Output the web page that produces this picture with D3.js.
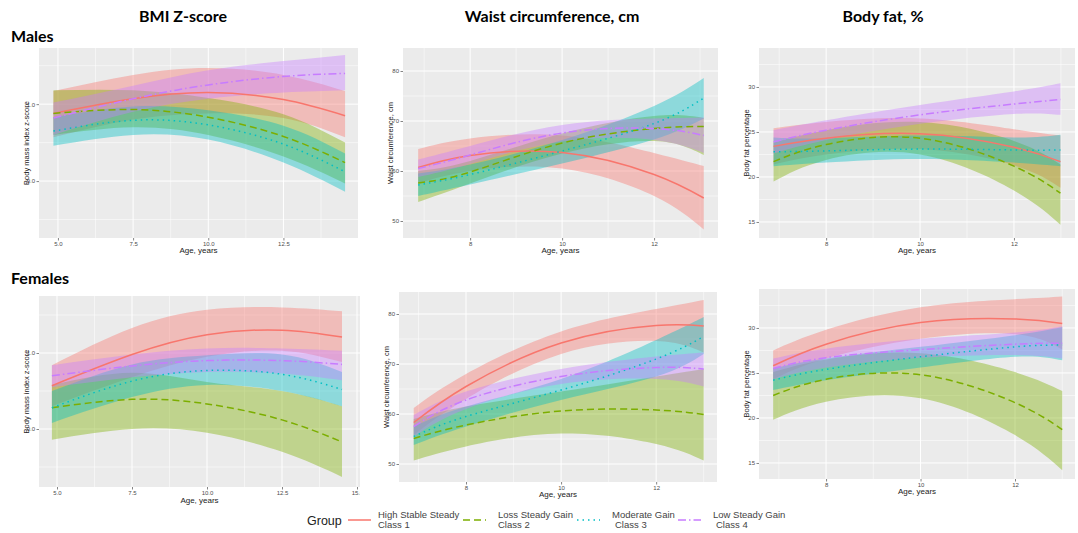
<!DOCTYPE html>
<html>
<head>
<meta charset="utf-8">
<script src="https://cdn.jsdelivr.net/npm/d3@7"></script>
<style>
  body { margin: 0; background: #fff; }
  svg { display: block; }
</style>
</head>
<body>
<div id="chart"></div>
<script>
// ---- data ----
const groupNames = ["High Stable Steady", "Loss Steady Gain", "Moderate Gain", "Low Steady Gain"];
const groupClasses = ["Class 1", "Class 2", "Class 3", "Class 4"];
const groupColors = ["#F8766D", "#7CAE00", "#00BFC4", "#C77CFF"];
const colTitles = ["BMI Z-score", "Waist circumference, cm", "Body fat, %"];
const rowTitles = ["Males", "Females"];
const yTitles = ["Body mass index z-score", "Waist circumference, cm", "Body fat percentage"];

const bmiTicksX = [5, 7.5, 10, 12.5, 15];
const yearTicksX = [8, 10, 12];
const bmiTicksY = [0, 1];
const waistTicksY = [50, 60, 70, 80];
const fatTicksY = [15, 20, 25, 30];

// males, BMI z-score (rows = class 1..4)
const maleBmiAge = [4.85, 7.5, 10, 12.5, 14.55];
const maleBmiMean = [[0.88, 1.07, 1.15, 1.06, 0.85], [0.88, 0.93, 0.83, 0.58, 0.24], [0.65, 0.79, 0.73, 0.48, 0.12], [0.82, 1.07, 1.25, 1.36, 1.40]];
const maleBmiLow  = [[0.57, 0.80, 0.88, 0.82, 0.57], [0.60, 0.70, 0.60, 0.32, -0.03], [0.46, 0.60, 0.54, 0.24, -0.14], [0.60, 0.90, 1.07, 1.15, 1.18]];
const maleBmiHigh = [[1.17, 1.38, 1.47, 1.38, 1.17], [1.18, 1.18, 1.08, 0.87, 0.50], [0.83, 0.97, 0.92, 0.72, 0.36], [1.02, 1.24, 1.44, 1.56, 1.64]];

// males, waist circumference
const maleWaistAge = [6.87, 8, 10, 12, 13.08];
const maleWaistMean = [[60.7, 63.1, 63.7, 59.3, 54.6], [57.6, 59.8, 65.6, 68.5, 68.9], [57.2, 59.3, 64.0, 69.5, 74.6], [60.5, 63.2, 67.6, 68.5, 67.1]];
const maleWaistLow  = [[57.5, 60.0, 60.5, 55.0, 48.3], [53.8, 57.5, 63.5, 66.0, 63.2], [55.0, 57.3, 61.5, 66.3, 70.5], [58.8, 61.4, 65.9, 66.2, 63.6]];
const maleWaistHigh = [[64.4, 66.5, 67.1, 63.6, 61.0], [60.0, 62.0, 67.5, 71.0, 70.6], [59.5, 61.3, 66.2, 73.0, 78.6], [62.3, 65.0, 69.2, 70.5, 70.7]];

// males, body fat
const maleFatAge = [6.88, 8, 10, 12, 12.99];
const maleFatMean = [[23.4, 24.3, 24.8, 23.3, 21.7], [21.7, 23.6, 24.3, 21.2, 18.2], [22.8, 22.9, 23.1, 23.0, 23.0], [23.9, 25.2, 26.9, 28.1, 28.6]];
const maleFatLow  = [[21.4, 22.5, 23.1, 21.3, 18.8], [19.5, 21.9, 22.5, 18.5, 14.7], [21.2, 21.6, 22.0, 21.6, 21.2], [22.6, 24.1, 25.9, 27.0, 26.9]];
const maleFatHigh = [[25.4, 26.1, 26.5, 25.3, 24.6], [23.8, 25.2, 26.1, 24.0, 21.4], [24.4, 24.3, 24.6, 24.4, 24.7], [25.2, 26.3, 28.0, 29.5, 30.4]];

// females, BMI z-score
const femaleBmiAge = [4.83, 7.5, 10, 12.5, 14.5];
const femaleBmiMean = [[0.57, 0.98, 1.24, 1.30, 1.21], [0.28, 0.39, 0.33, 0.12, -0.17], [0.28, 0.63, 0.77, 0.72, 0.52], [0.70, 0.83, 0.90, 0.90, 0.85]];
const femaleBmiLow  = [[0.30, 0.68, 0.95, 1.03, 0.88], [-0.14, 0.00, -0.05, -0.30, -0.63], [0.08, 0.42, 0.58, 0.50, 0.30], [0.55, 0.68, 0.75, 0.73, 0.64]];
const femaleBmiHigh = [[0.84, 1.33, 1.57, 1.60, 1.55], [0.58, 0.74, 0.62, 0.50, 0.30], [0.50, 0.85, 0.97, 0.98, 0.75], [0.84, 0.98, 1.06, 1.06, 1.03]];

// females, waist circumference
const femaleWaistAge = [6.9, 8, 10, 12, 13.0];
const femaleWaistMean = [[58.3, 65.5, 74.2, 77.7, 77.6], [55.1, 57.8, 60.6, 60.8, 59.9], [55.5, 59.5, 64.8, 71.0, 75.5], [57.5, 62.8, 67.5, 69.3, 69.0]];
const femaleWaistLow  = [[55.8, 63.0, 72.0, 74.6, 72.3], [50.7, 53.5, 56.1, 54.0, 50.7], [53.8, 57.5, 62.8, 67.5, 72.0], [55.5, 61.0, 66.0, 67.0, 65.5]];
const femaleWaistHigh = [[61.2, 68.0, 76.5, 81.0, 82.8], [59.0, 61.5, 64.5, 67.5, 69.0], [57.5, 61.5, 67.0, 74.8, 79.4], [59.8, 64.5, 69.0, 71.5, 72.3]];

// females, body fat
const femaleFatAge = [6.88, 8, 10, 12, 13.0];
const femaleFatMean = [[25.8, 28.2, 30.6, 31.0, 30.5], [22.5, 24.3, 24.8, 21.7, 18.7], [24.2, 25.4, 26.8, 27.9, 28.1], [25.5, 26.7, 27.6, 28.2, 28.3]];
const femaleFatLow  = [[24.3, 26.6, 28.8, 29.3, 27.6], [19.8, 21.8, 22.2, 18.1, 14.2], [23.1, 24.2, 25.6, 26.8, 26.4], [24.3, 25.6, 26.7, 27.0, 26.6]];
const femaleFatHigh = [[27.5, 29.8, 32.3, 33.2, 33.5], [25.1, 26.5, 27.2, 25.1, 23.0], [25.5, 26.6, 27.9, 29.2, 30.1], [26.6, 27.7, 28.8, 29.5, 30.2]];

// ---- layout ----
const width = 1078, height = 533;
const lineDash = [null, "7,4", "1.5,4", "8,3,1.5,3"];
const fmt1 = d3.format(".1f");

const svg = d3.select("#chart").append("svg")
  .attr("width", width)
  .attr("height", height)
  .style("font-family", "'Liberation Sans', Arial, sans-serif");

// clip each column so the stray "15.0" label gets cut like in the figure
const defs = svg.append("defs");
[[0, 360], [360, 720], [720, 1078]].forEach((c, i) => {
  defs.append("clipPath").attr("id", "col" + i)
    .append("rect").attr("x", c[0]).attr("y", 0).attr("width", c[1] - c[0]).attr("height", height);
});

const panels = [
  {col: 0, box: [39, 358, 48, 238], xd: [4.37, 14.98], yd: [-0.74, 1.73], xt: bmiTicksX, xf: fmt1, yt: bmiTicksY,
   age: maleBmiAge, mean: maleBmiMean, lo: maleBmiLow, hi: maleBmiHigh, xTitleY: 253},
  {col: 1, box: [403, 718, 48, 238], xd: [6.54, 13.39], yd: [46.6, 84.6], xt: yearTicksX, xf: d3.format("d"), yt: waistTicksY,
   age: maleWaistAge, mean: maleWaistMean, lo: maleWaistLow, hi: maleWaistHigh, xTitleY: 253},
  {col: 2, box: [759, 1075, 48, 238], xd: [6.57, 13.30], yd: [13.22, 34.33], xt: yearTicksX, xf: d3.format("d"), yt: fatTicksY,
   age: maleFatAge, mean: maleFatMean, lo: maleFatLow, hi: maleFatHigh, xTitleY: 253},
  {col: 0, box: [39, 360, 296, 487], xd: [4.4, 15.1], yd: [-0.763, 1.75], xt: bmiTicksX, xf: fmt1, yt: bmiTicksY,
   age: femaleBmiAge, mean: femaleBmiMean, lo: femaleBmiLow, hi: femaleBmiHigh, xTitleY: 503},
  {col: 1, box: [399, 717, 292, 482], xd: [6.59, 13.28], yd: [46.4, 84.4], xt: yearTicksX, xf: d3.format("d"), yt: waistTicksY,
   age: femaleWaistAge, mean: femaleWaistMean, lo: femaleWaistLow, hi: femaleWaistHigh, xTitleY: 497},
  {col: 2, box: [759, 1075, 289, 479], xd: [6.58, 13.27], yd: [13.22, 34.33], xt: yearTicksX, xf: d3.format("d"), yt: fatTicksY,
   age: femaleFatAge, mean: femaleFatMean, lo: femaleFatLow, hi: femaleFatHigh, xTitleY: 494}
];

function minors(ticks, domain) {
  const step = ticks[1] - ticks[0];
  const out = [];
  for (let v = ticks[0] - step / 2; v <= domain[1]; v += step) {
    if (v >= domain[0]) out.push(v);
  }
  return out;
}

panels.forEach(p => {
  const [x0, x1, y0, y1] = p.box;
  const g = svg.append("g").attr("clip-path", `url(#col${p.col})`);
  const x = d3.scaleLinear().domain(p.xd).range([x0, x1]);
  const y = d3.scaleLinear().domain(p.yd).range([y1, y0]);

  g.append("rect")
    .attr("x", x0).attr("y", y0)
    .attr("width", x1 - x0).attr("height", y1 - y0)
    .attr("fill", "#EBEBEB");

  // grid
  const xMaj = p.xt.filter(v => v >= p.xd[0] && v <= p.xd[1]);
  const yMaj = p.yt.filter(v => v >= p.yd[0] && v <= p.yd[1]);
  g.selectAll(".gxm").data(minors(p.xt, p.xd)).enter().append("line")
    .attr("x1", d => x(d)).attr("x2", d => x(d)).attr("y1", y0).attr("y2", y1)
    .attr("stroke", "#fff").attr("stroke-width", 0.5);
  g.selectAll(".gym").data(minors(p.yt, p.yd)).enter().append("line")
    .attr("y1", d => y(d)).attr("y2", d => y(d)).attr("x1", x0).attr("x2", x1)
    .attr("stroke", "#fff").attr("stroke-width", 0.5);
  g.selectAll(".gx").data(xMaj).enter().append("line")
    .attr("x1", d => x(d)).attr("x2", d => x(d)).attr("y1", y0).attr("y2", y1)
    .attr("stroke", "#fff").attr("stroke-width", 1);
  g.selectAll(".gy").data(yMaj).enter().append("line")
    .attr("y1", d => y(d)).attr("y2", d => y(d)).attr("x1", x0).attr("x2", x1)
    .attr("stroke", "#fff").attr("stroke-width", 1);

  // ribbons then lines
  const area = d3.area()
    .x(d => x(d.a)).y0(d => y(d.lo)).y1(d => y(d.hi))
    .curve(d3.curveNatural);
  const line = d3.line()
    .x(d => x(d.a)).y(d => y(d.m))
    .curve(d3.curveNatural);

  p.mean.forEach((m, i) => {
    const rows = p.age.map((a, j) => ({a: a, m: m[j], lo: p.lo[i][j], hi: p.hi[i][j]}));
    g.append("path").datum(rows)
      .attr("d", area)
      .attr("fill", groupColors[i])
      .attr("fill-opacity", 0.4);
  });
  p.mean.forEach((m, i) => {
    const rows = p.age.map((a, j) => ({a: a, m: m[j]}));
    g.append("path").datum(rows)
      .attr("d", line)
      .attr("fill", "none")
      .attr("stroke", groupColors[i])
      .attr("stroke-width", 1.5)
      .attr("stroke-dasharray", lineDash[i]);
  });

  // axes
  const ax = g.append("g").attr("transform", `translate(0,${y1})`)
    .call(d3.axisBottom(x).tickValues(xMaj).tickFormat(p.xf).tickSize(2.5).tickPadding(1.5));
  const ay = g.append("g").attr("transform", `translate(${x0},0)`)
    .call(d3.axisLeft(y).tickValues(yMaj).tickSize(2.5).tickPadding(1.5));
  [ax, ay].forEach(a => {
    a.select(".domain").remove();
    a.selectAll(".tick line").attr("stroke", "#333").attr("stroke-width", 0.6);
    a.selectAll(".tick text").attr("fill", "#4D4D4D").style("font-size", "6px")
      .style("font-family", "'Liberation Sans', Arial, sans-serif");
  });

  g.append("text")
    .attr("x", (x0 + x1) / 2).attr("y", p.xTitleY)
    .attr("text-anchor", "middle")
    .attr("fill", "#222")
    .style("font-size", "8px")
    .text("Age, years");

  g.append("text")
    .attr("transform", `translate(${x0 - 10},${(y0 + y1) / 2}) rotate(-90)`)
    .attr("text-anchor", "middle")
    .attr("fill", "#222")
    .style("font-size", "7.5px")
    .text(yTitles[p.col]);
});

// column and row titles
const colCenters = [183, 552, 883];
svg.selectAll(".coltitle").data(colTitles).enter().append("text")
  .attr("x", (d, i) => colCenters[i]).attr("y", 22)
  .attr("text-anchor", "middle")
  .style("font-family", "Lato, 'Open Sans', sans-serif")
  .style("font-weight", "bold").style("font-size", "16px")
  .text(d => d);

const rowY = [42, 284];
svg.selectAll(".rowtitle").data(rowTitles).enter().append("text")
  .attr("x", 11).attr("y", (d, i) => rowY[i])
  .style("font-family", "Lato, 'Open Sans', sans-serif")
  .style("font-weight", "bold").style("font-size", "16px")
  .text(d => d);

// legend
const legend = svg.append("g").attr("transform", "translate(0,520)");
legend.append("text")
  .attr("x", 307).attr("y", 4.5)
  .attr("fill", "#222")
  .style("font-size", "12.5px")
  .text("Group");
const keyX = [348, 463, 577, 678];
const labelX = [378, 498, 612, 713];
groupNames.forEach((name, i) => {
  legend.append("line")
    .attr("x1", keyX[i]).attr("x2", keyX[i] + 23)
    .attr("y1", 0).attr("y2", 0)
    .attr("stroke", groupColors[i])
    .attr("stroke-width", 1.5)
    .attr("stroke-dasharray", lineDash[i]);
  const t = legend.append("text")
    .attr("x", labelX[i]).attr("y", -2)
    .attr("fill", "#444")
    .style("font-size", "9.5px");
  t.append("tspan").attr("x", labelX[i]).text(name);
  t.append("tspan").attr("x", labelX[i] + (i >= 2 ? 3 : 0)).attr("dy", 9.5).text(groupClasses[i]);
});
</script>
</body>
</html>
